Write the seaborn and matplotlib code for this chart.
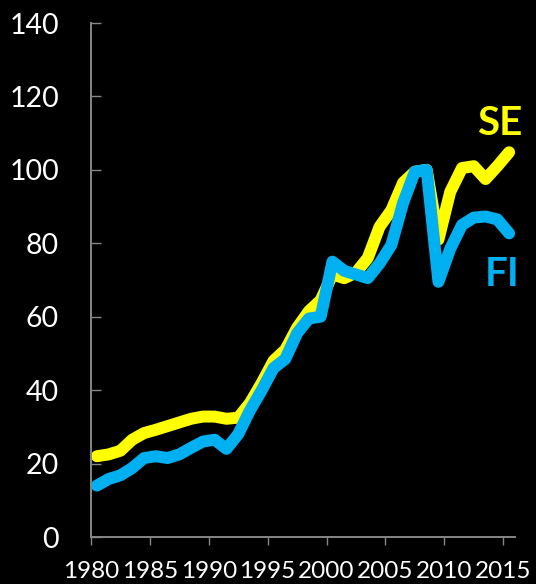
import numpy as np
import pandas as pd
import matplotlib
matplotlib.use("Agg")
import matplotlib.pyplot as plt
import seaborn as sns

# ── DATA ──────────────────────────────────────────────────────────────────────

years = list(range(1980, 2016))

se_values = [22.0, 22.5, 23.5, 26.5, 28.3, 29.2, 30.2, 31.2, 32.2, 32.8,
             32.8, 32.2, 32.5, 36.5, 42.0, 48.0, 51.0, 57.0, 61.5, 64.5,
             71.5, 70.5, 72.0, 76.0, 84.5, 89.0, 96.5, 99.5, 100.0, 81.0,
             94.0, 100.5, 101.0, 97.5, 101.0, 104.8]

fi_values = [14.0, 15.8, 16.8, 18.8, 21.5, 22.0, 21.5, 22.5, 24.3, 26.0,
             26.5, 24.0, 28.0, 34.5, 40.0, 46.0, 48.5, 55.5, 59.5, 60.0,
             75.0, 72.5, 71.5, 70.5, 74.5, 79.5, 91.0, 99.5, 100.0, 69.5,
             78.5, 85.0, 87.0, 87.3, 86.5, 82.7]

series_names = ["SE", "FI"]
x_ticks = list(range(1980, 2016, 5))
y_ticks = list(range(0, 141, 20))

# ── STYLE ─────────────────────────────────────────────────────────────────────

COLORS = {"SE": "#FFFF00", "FI": "#00B0F0"}
SPINE  = "#868686"

sns.set_theme(style="dark", rc={
    "figure.facecolor": "black",
    "axes.facecolor":   "black",
    "savefig.facecolor": "black",
})
plt.rcParams["font.family"] = ["Lato", "DejaVu Sans"]

# annual values sit in the middle of each year slot
df = pd.concat([
    pd.DataFrame({"year": np.array(years) + 0.5, "value": se_values, "country": "SE"}),
    pd.DataFrame({"year": np.array(years) + 0.5, "value": fi_values, "country": "FI"}),
])

fig = plt.figure(figsize=(5.36, 5.84), dpi=100)
ax = fig.add_axes([91 / 536, 1 - 537 / 584, 424 / 536, 514 / 584])

sns.lineplot(data=df, x="year", y="value", hue="country",
             hue_order=series_names, palette=COLORS,
             linewidth=8.6, legend=False, ax=ax,
             solid_capstyle="round", solid_joinstyle="round")

ax.set_xlim(1980, 2016)
ax.set_ylim(0, 140)
ax.set_xticks(x_ticks)
ax.set_yticks(y_ticks)
ax.set_xlabel("")
ax.set_ylabel("")
ax.grid(False)

for side in ["top", "right"]:
    ax.spines[side].set_visible(False)
for side in ["left", "bottom"]:
    ax.spines[side].set_visible(True)
    ax.spines[side].set_color(SPINE)
    ax.spines[side].set_linewidth(1.4)

ax.tick_params(axis="y", direction="in", length=7.5, width=1.0, color=SPINE,
               labelcolor="white", labelsize=20.5, pad=23, left=True)
ax.tick_params(axis="x", direction="out", length=6, width=1.0, color=SPINE,
               labelcolor="white", labelsize=17.5, pad=11, bottom=True)

# series labels at the right end
ax.text(2014.7, 112.5, "SE", color=COLORS["SE"], fontsize=29,
        fontweight="bold", ha="center", va="center")
ax.text(2014.9, 71.6, "FI", color=COLORS["FI"], fontsize=29,
        fontweight="bold", ha="center", va="center")

fig.savefig("out.png", dpi=100, facecolor="black")
